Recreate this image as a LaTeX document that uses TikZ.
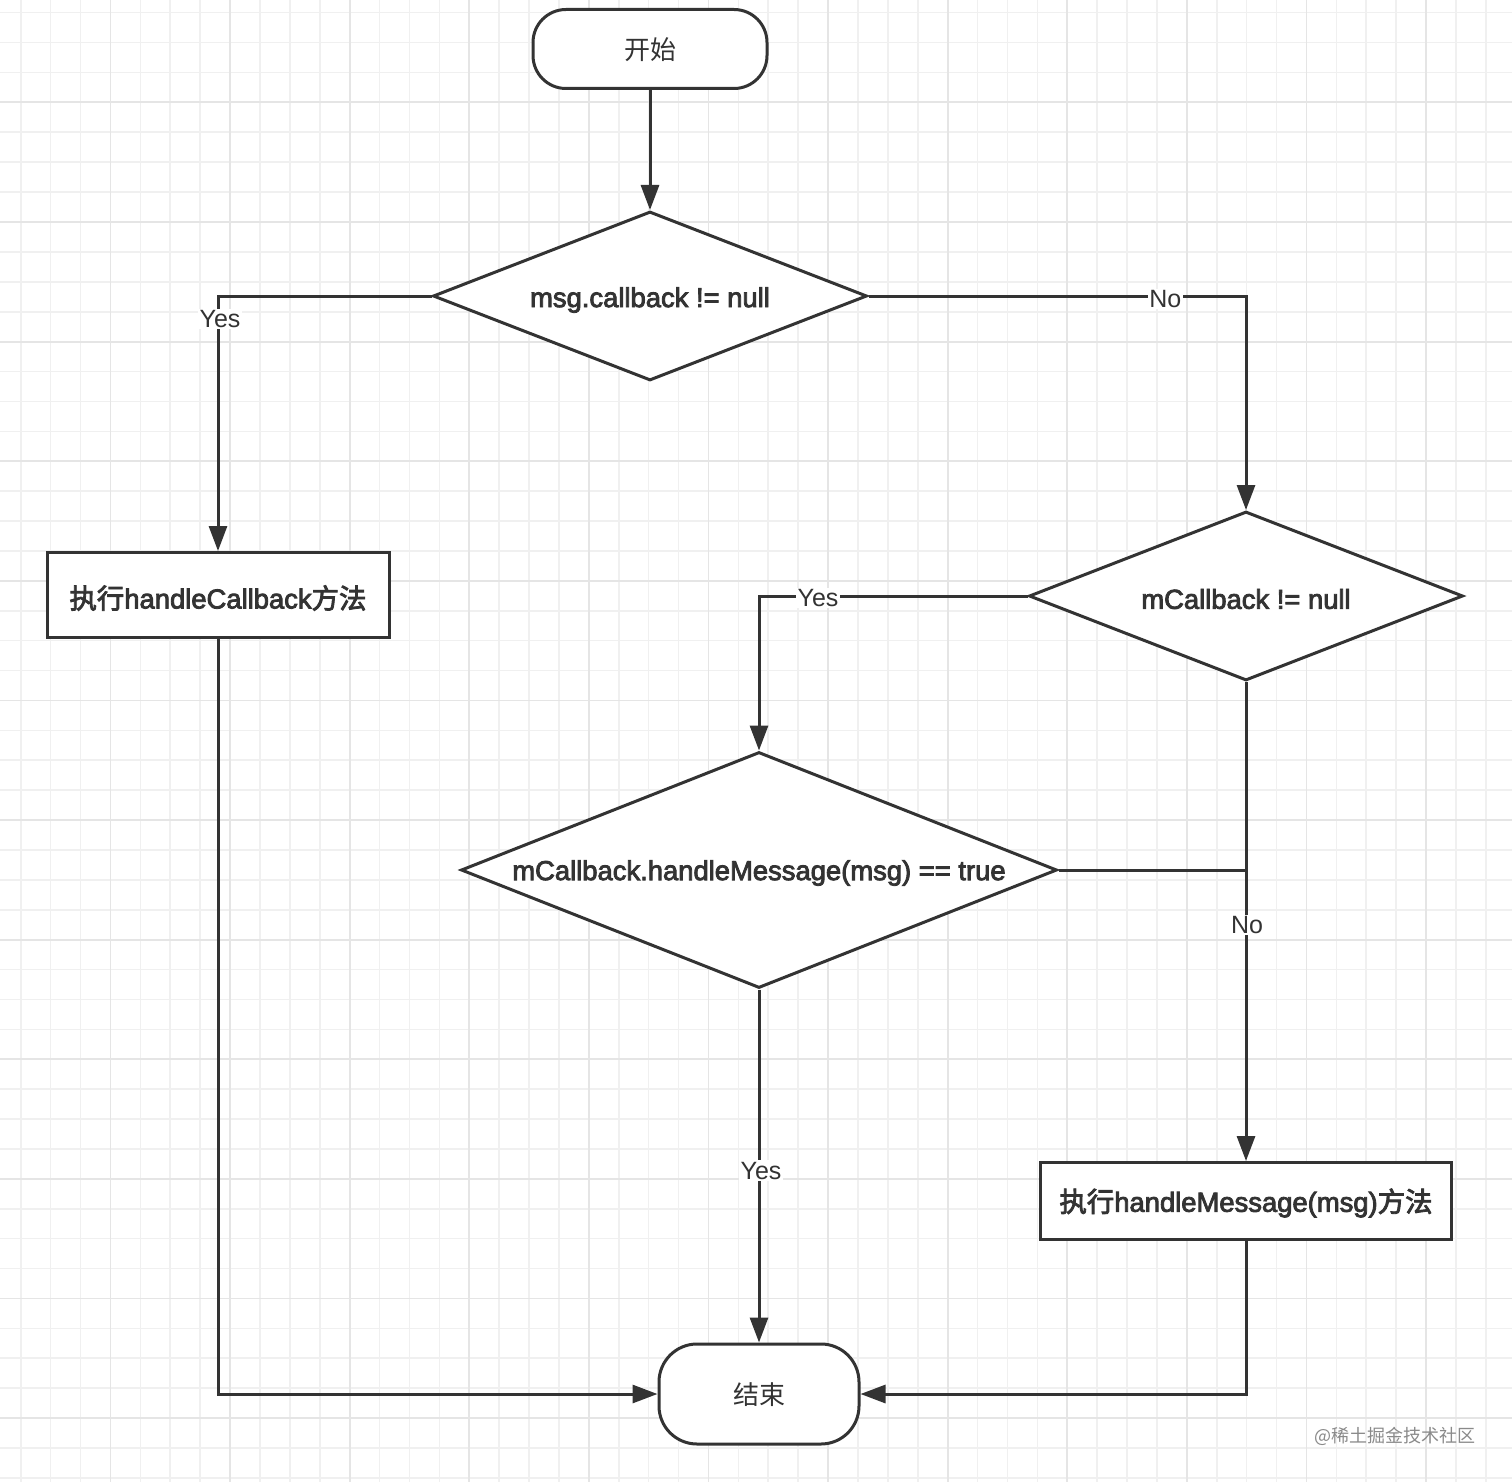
\documentclass[tikz,border=0pt]{standalone}
\usepackage{fontspec}
\setmainfont{Liberation Sans}[BoldFont={Liberation Sans}, BoldFeatures={FakeBold=3}]
\newfontfamily\cjk{Noto Sans CJK SC}[BoldFont={Noto Sans CJK SC}, BoldFeatures={FakeBold=3}]
\usetikzlibrary{shapes.geometric,arrows.meta}
\definecolor{ink}{HTML}{333333}
\definecolor{gridminor}{HTML}{F0F0F0}
\definecolor{gridmajor}{HTML}{E5E5E5}
\definecolor{wm}{HTML}{8A8A8A}
\newcommand{\zh}[1]{{\cjk #1}}
\tikzset{
  x=1pt, y=-1pt,
  every node/.style={text=ink},
  terminal/.style={draw=ink, line width=3pt, fill=white, rectangle, inner sep=0pt},
  procbox/.style={draw=ink, line width=3pt, fill=white, rectangle, inner sep=0pt},
  decision/.style={draw=ink, line width=3pt, fill=white, diamond, inner sep=0pt},
  ntext/.style={font=\fontsize{27.4}{30}\selectfont\bfseries, inner sep=0pt},
  ttext/.style={font=\fontsize{26}{30}\selectfont, inner sep=0pt},
  lbl/.style={font=\fontsize{25}{28}\selectfont, fill=white, inner sep=1.5pt},
  conn/.style={draw=ink, line width=3pt},
  arr/.style={conn, -{Triangle[length=25pt,width=18pt]}},
}
\begin{document}
\begin{tikzpicture}
\useasboundingbox (0,0) rectangle (1512,1482);
\fill[white] (0,0) rectangle (1512,1482);
% grid
\foreach \k in {0,...,49}{
  \pgfmathsetmacro{\gx}{20.7+29.9*\k}
  \pgfmathsetmacro{\gy}{12.7+29.9*\k}
  \draw[gridminor, line width=1.6pt] (\gx,0) -- (\gx,1482);
  \draw[gridminor, line width=1.6pt] (0,\gy) -- (1512,\gy);
}
\foreach \j in {0,...,11}{
  \pgfmathsetmacro{\gx}{110.4+119.6*\j}
  \pgfmathsetmacro{\gy}{102.4+119.6*\j}
  \draw[gridmajor, line width=1.8pt] (\gx,0) -- (\gx,1482);
  \draw[gridmajor, line width=1.8pt] (0,\gy) -- (1512,\gy);
}
% nodes
\node[terminal, rounded corners=33pt, minimum width=234pt, minimum height=79pt] (s) at (650,49) {};
\node[ttext] (st) at (650,50) {\zh{开始}};
\node[decision, minimum width=434pt, minimum height=169pt] (d1) at (650,296) {};
\node[ntext] (d1t) at (650,300) {msg.callback != null};
\node[procbox, minimum width=342pt, minimum height=85pt] (b1) at (218,595) {};
\node[ntext] (b1t) at (218,598) {\zh{执行}handleCallback\zh{方法}};
\node[decision, minimum width=434pt, minimum height=169pt] (d2) at (1246,596) {};
\node[ntext] (d2t) at (1246,599) {mCallback != null};
\node[decision, minimum width=596pt, minimum height=236pt] (d3) at (759,870) {};
\node[ntext] (d3t) at (759,873) {mCallback.handleMessage(msg) == true};
\node[procbox, minimum width=411pt, minimum height=77pt] (b2) at (1246,1201) {};
\node[ntext] (b2t) at (1246,1203) {\zh{执行}handleMessage(msg)\zh{方法}};
\node[terminal, rounded corners=38pt, minimum width=200pt, minimum height=100pt] (e) at (759,1394) {};
\node[ttext] (et) at (759,1395) {\zh{结束}};
% connectors
\draw[arr] (s.south) -- (d1.north);
\draw[arr] (d1.west) -| node[lbl, pos=0.545, xshift=2pt] (l1) {Yes} (b1.north);
\draw[arr] (d1.east) -| node[lbl, pos=0.393, yshift=-3pt] (l2) {No} (d2.north);
\draw[arr] (d2.west) -| node[lbl, pos=0.39, yshift=-2pt] (l3) {Yes} (d3.north);
\draw[arr] (d2.south) -- node[lbl, pos=0.507, xshift=1pt] (l4) {No} (b2.north);
\draw[conn] (d3.east) -- (d3.east -| d2.south);
\draw[arr] (d3.south) -- node[lbl, pos=0.513, xshift=2pt] (l5) {Yes} (e.north);
\draw[arr] (b1.south) |- (e.west);
\draw[arr] (b2.south) |- (e.east);
% watermark
\node[font=\fontsize{18}{20}\selectfont, text=wm, inner sep=0pt] (wmk) at (1395,1436) {\zh{@稀土掘金技术社区}};
\end{tikzpicture}
\end{document}
